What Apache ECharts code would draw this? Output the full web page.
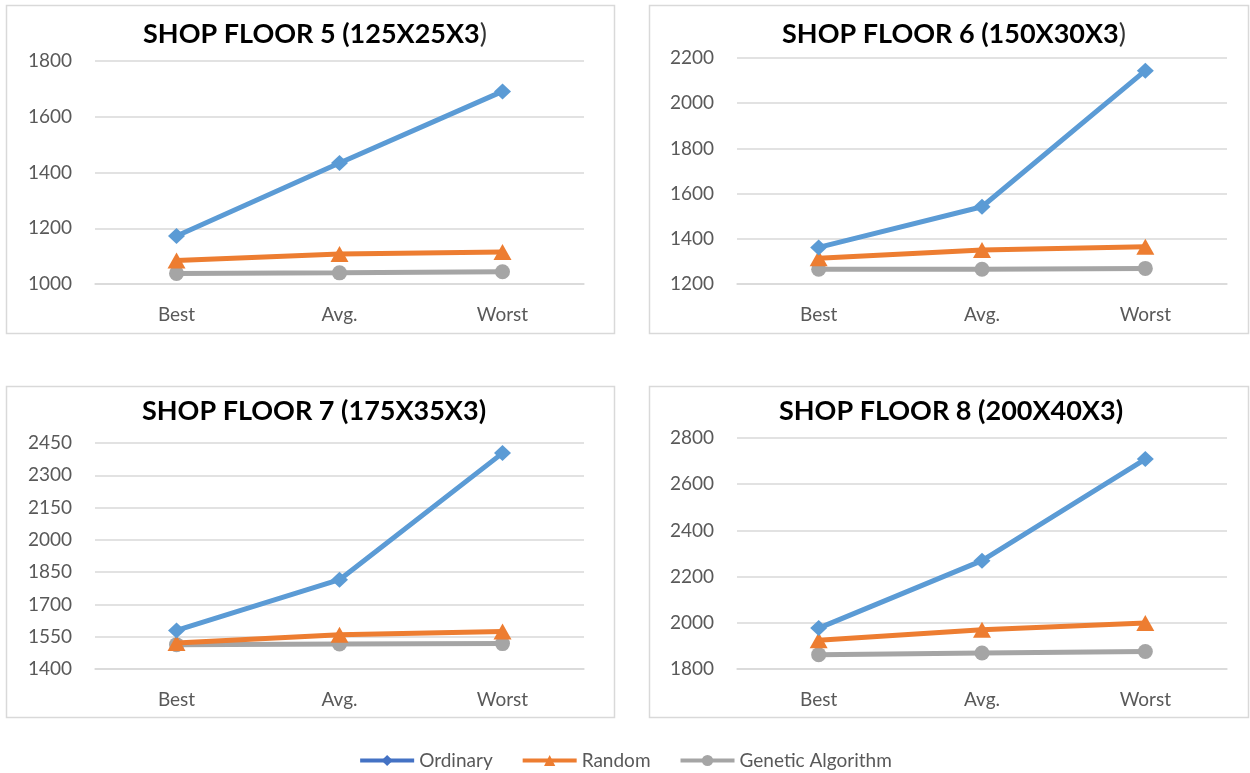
<!DOCTYPE html>
<html>
<head>
<meta charset="utf-8">
<script src="https://cdn.jsdelivr.net/npm/echarts@6/dist/echarts.min.js"></script>
<style>
  html, body { margin: 0; padding: 0; background: #fff; }
  #chart { width: 1250px; height: 773px; }
</style>
</head>
<body>
<div id="chart"></div>
<script>
// Four shop-floor panels, same three methods in each.
const categories = ['Best', 'Avg.', 'Worst'];
const seriesNames = ['Ordinary', 'Random', 'Genetic Algorithm'];

const floorTitles = [
  'SHOP FLOOR 5 (125X25X3',
  'SHOP FLOOR 6 (150X30X3',
  'SHOP FLOOR 7 (175X35X3',
  'SHOP FLOOR 8 (200X40X3'
];
// first two titles end with a thin bracket in the original
const thinBracket = [true, true, false, false];

// values per floor: [Best, Avg., Worst]
const ordinary = [
  [1172, 1434, 1691],
  [1362, 1542, 2144],
  [1579, 1815, 2403],
  [1977, 2269, 2709]
];
const random = [
  [1084, 1108, 1115],
  [1314, 1350, 1365],
  [1521, 1559, 1574],
  [1924, 1970, 1999]
];
const genetic = [
  [1038, 1040, 1044],
  [1265, 1265, 1269],
  [1513, 1516, 1518],
  [1862, 1869, 1876]
];

// y axis ranges per floor
const yMin = [1000, 1200, 1400, 1800];
const yMax = [1800, 2200, 2450, 2800];
const yStep = [200, 200, 150, 200];

const COLORS = ['#5B9BD5', '#ED7D31', '#A5A5A5'];
const LEGEND_BLUE = '#4472C4';
const TXT = '#595959';
const LINE_GRAY = '#D9D9D9';
const FONT = 'Lato, "Open Sans", sans-serif';

// panel layout: frame box and grid rect inside
const panels = [
  { frame: [6, 5, 614, 333],    grid: { left: 95,  top: 61,  width: 489, height: 223 }, titleX: 310, titleY: 16 },
  { frame: [649, 5, 1248, 333], grid: { left: 737, top: 58,  width: 490, height: 226 }, titleX: 949, titleY: 16 },
  { frame: [6, 386, 614, 717],  grid: { left: 95,  top: 443, width: 489, height: 226 }, titleX: 309, titleY: 393 },
  { frame: [649, 386, 1248, 717], grid: { left: 737, top: 438, width: 490, height: 231 }, titleX: 946, titleY: 393 }
];

const chart = echarts.init(document.getElementById('chart'));

const grids = [], xAxes = [], yAxes = [], titles = [], series = [], frames = [];

panels.forEach((p, i) => {
  grids.push(p.grid);

  frames.push({
    type: 'rect',
    shape: { x: p.frame[0] + 0.5, y: p.frame[1] + 0.5, width: p.frame[2] - p.frame[0], height: p.frame[3] - p.frame[1] },
    style: { fill: 'none', stroke: LINE_GRAY, lineWidth: 1.5 },
    silent: true,
    z: -1
  });

  titles.push({
    text: thinBracket[i] ? floorTitles[i] + '{thin|)}' : floorTitles[i] + ')',
    left: p.titleX,
    top: p.titleY,
    textAlign: 'center',
    textStyle: {
      fontFamily: FONT,
      fontWeight: 'bold',
      fontSize: 27,
      color: '#000',
      rich: {
        thin: { fontFamily: FONT, fontWeight: 'normal', fontSize: 27, color: '#333' }
      }
    }
  });

  xAxes.push({
    type: 'category',
    gridIndex: i,
    data: categories,
    boundaryGap: true,
    axisLine: { show: true, lineStyle: { color: LINE_GRAY, width: 1.5 } },
    axisTick: { show: false },
    axisLabel: { color: TXT, fontFamily: FONT, fontSize: 19, margin: 21 }
  });

  yAxes.push({
    type: 'value',
    gridIndex: i,
    min: yMin[i],
    max: yMax[i],
    interval: yStep[i],
    axisLine: { show: false },
    axisTick: { show: false },
    splitLine: { lineStyle: { color: LINE_GRAY, width: 1.5 } },
    axisLabel: { color: TXT, fontFamily: FONT, fontSize: 19, margin: 23, formatter: v => String(v) }
  });

  const sets = [ordinary[i], random[i], genetic[i]];
  const symbols = ['diamond', 'triangle', 'circle'];
  const sizes = [[17, 16], [18, 16], 15];
  sets.forEach((vals, k) => {
    series.push({
      name: seriesNames[k],
      type: 'line',
      xAxisIndex: i,
      yAxisIndex: i,
      data: vals,
      symbol: symbols[k],
      symbolSize: sizes[k],
      showAllSymbol: true,
      color: COLORS[k],
      lineStyle: { width: 5, color: COLORS[k] },
      itemStyle: { color: COLORS[k] },
      z: 10 - k
    });
  });
});

chart.setOption({
  animation: false,
  backgroundColor: '#fff',
  title: titles,
  grid: grids,
  xAxis: xAxes,
  yAxis: yAxes,
  legend: {
    top: 746,
    left: 'center',
    itemWidth: 54,
    itemHeight: 14,
    itemGap: 28,
    textStyle: { color: TXT, fontFamily: FONT, fontSize: 19 },
    data: [
      { name: 'Ordinary', itemStyle: { color: LEGEND_BLUE }, lineStyle: { color: LEGEND_BLUE, width: 4 } },
      { name: 'Random', lineStyle: { width: 4 } },
      { name: 'Genetic Algorithm', lineStyle: { width: 4 } }
    ]
  },
  graphic: frames,
  series
});
</script>
</body>
</html>
